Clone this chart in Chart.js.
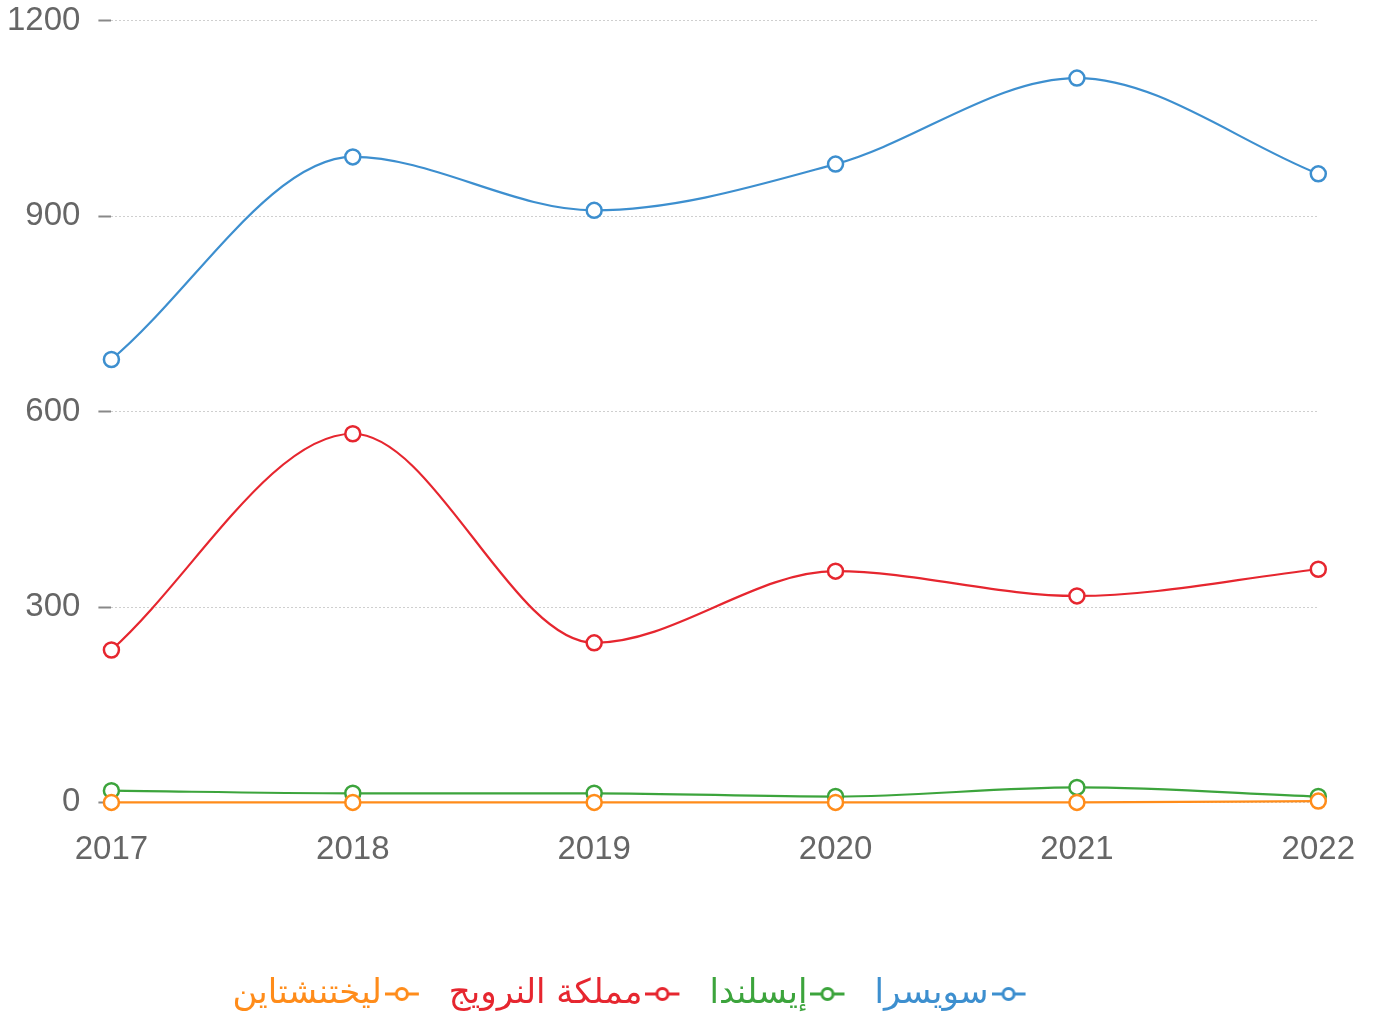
<!DOCTYPE html>
<html>
<head>
<meta charset="utf-8">
<script src="https://cdn.jsdelivr.net/npm/chart.js@4/dist/chart.umd.min.js"></script>
<style>
  html, body { margin: 0; padding: 0; background: #fff; overflow: hidden; }
  #wrap { width: 1375px; height: 1038px; margin-top: -17px; }
</style>
</head>
<body>
<div id="wrap"><canvas id="chart"></canvas></div>
<script>
const years = ["2017", "2018", "2019", "2020", "2021", "2022"];
const swiss = [680, 991, 909, 980, 1112, 965];
const iceland = [18, 14, 14, 9, 23, 9];
const norway = [234, 566, 245, 355, 317, 358];
const liecht = [0, 0, 0, 0, 0, 2];
const names = ["سويسرا", "إيسلندا", "مملكة النرويج", "ليختنشتاين"];
const colors = ["#3d8fcf", "#3ca43c", "#e6262f", "#ff8c1a"];
const yTicks = [0, 300, 600, 900, 1200];

// legend marker: line with a ring, drawn in the left part so it sits close to the text
function marker(color) {
  const c = document.createElement("canvas");
  c.width = 48; c.height = 16;
  const g = c.getContext("2d");
  g.strokeStyle = color;
  g.lineWidth = 3;
  g.beginPath(); g.moveTo(0, 8); g.lineTo(34, 8); g.stroke();
  g.fillStyle = "#fff";
  g.beginPath(); g.arc(17, 8, 5.5, 0, Math.PI * 2); g.fill(); g.stroke();
  return c;
}

const series = [swiss, iceland, norway, liecht];
const datasets = series.map((d, i) => ({
  label: names[i],
  data: d,
  borderColor: colors[i],
  backgroundColor: "#fff",
  borderWidth: 2.2,
  pointRadius: 7.5,
  pointBorderWidth: 2.5,
  pointBackgroundColor: "#fff",
  cubicInterpolationMode: "monotone",
  clip: false,
  order: 3 - i
}));

// the legend in the reference sits a bit left of centre
const shiftLegend = {
  id: "shiftLegend",
  afterLayout(chart) {
    chart.legend.left -= 53;
    chart.legend.right -= 53;
  }
};

new Chart(document.getElementById("chart"), {
  type: "line",
  data: { labels: years, datasets: datasets },
  plugins: [shiftLegend],
  options: {
    responsive: true,
    maintainAspectRatio: false,
    animation: false,
    layout: { padding: { left: -11, right: 0, top: 0, bottom: 0 } },
    scales: {
      y: {
        min: 0,
        max: 1200,
        afterBuildTicks: (s) => { s.ticks = yTicks.map((v) => ({ value: v })); },
        border: { display: false, dash: [2, 2] },
        grid: { color: "#cfcfcf", tickColor: "#888", tickLength: 13, tickWidth: 2, tickBorderDash: [] },
        ticks: {
          color: "#666",
          font: { family: "Liberation Sans, Arial", size: 33 },
          padding: 18,
          callback: (v) => String(v)
        }
      },
      x: {
        offset: false,
        border: { display: false },
        grid: { display: false },
        ticks: { color: "#666", font: { family: "Liberation Sans, Arial", size: 33 }, padding: 20, maxRotation: 0 },
        afterFit: (s) => { s.height += 57; }
      }
    },
    plugins: {
      tooltip: { enabled: false },
      legend: {
        position: "bottom",
        rtl: true,
        textDirection: "rtl",
        labels: {
          usePointStyle: true,
          pointStyleWidth: 20,
          padding: 30,
          font: { family: "DejaVu Sans", size: 34 },
          generateLabels: (chart) => chart.data.datasets.map((ds, i) => ({
            text: ds.label,
            fontColor: colors[i],
            pointStyle: marker(colors[i]),
            datasetIndex: i,
            hidden: false,
            lineWidth: 0,
            strokeStyle: colors[i]
          }))
        }
      }
    }
  }
});
</script>
</body>
</html>
